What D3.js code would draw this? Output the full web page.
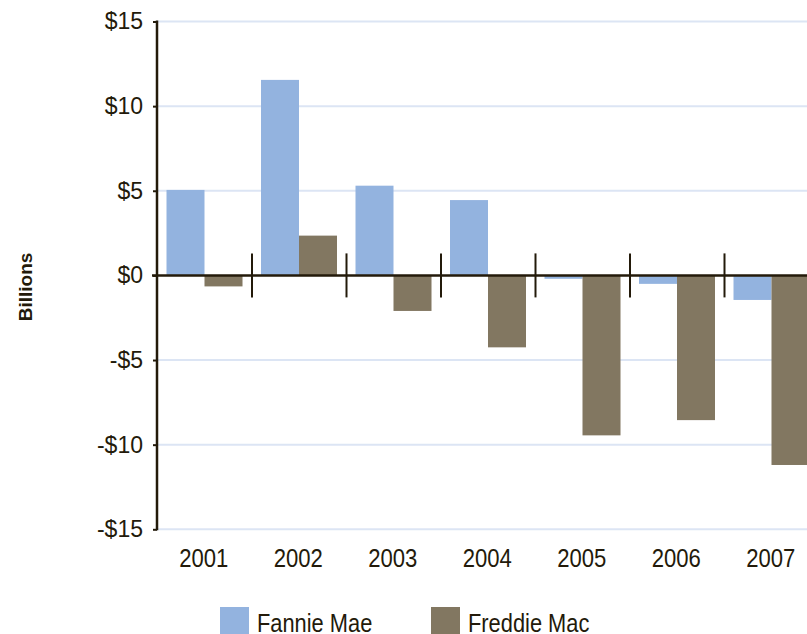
<!DOCTYPE html>
<html>
<head>
<meta charset="utf-8">
<script src="https://cdn.jsdelivr.net/npm/d3@7"></script>
<style>
  body { margin: 0; background: #fff; }
  svg { display: block; }
  text { fill: #231a0a; }
</style>
</head>
<body>
<svg></svg>
<script>
const years = ["2001", "2002", "2003", "2004", "2005", "2006", "2007"]
const fannie = [5.05, 11.55, 5.3, 4.45, -0.2, -0.5, -1.45]
const freddie = [-0.65, 2.35, -2.1, -4.25, -9.45, -8.55, -11.2]
const yTicks = [15, 10, 5, 0, -5, -10, -15]
const seriesNames = ["Fannie Mae", "Freddie Mac"]
const seriesColors = ["#93b3df", "#827761"]

const ink = "#231a0a"
const font = "'Liberation Sans', Arial, sans-serif"

const svg = d3.select("svg")
  .attr("width", 807)
  .attr("height", 634)

const y = d3.scaleLinear()
  .domain([-15, 15])
  .range([529.3, 21.5])

const x = d3.scaleBand()
  .domain(years)
  .range([157.5, 157.5 + 7 * 94.5])

const inner = d3.scaleBand()
  .domain([0, 1])
  .range([9, 94.5 - 9.5])

// gridlines
svg.append("g")
  .selectAll("line")
  .data(yTicks.filter(d => d !== 0))
  .join("line")
  .attr("x1", 157).attr("x2", 807)
  .attr("y1", d => y(d)).attr("y2", d => y(d))
  .attr("stroke", "#dce5f4")
  .attr("stroke-width", 2)

// bars
const rows = years.map((yr, i) => ({ yr, vals: [fannie[i], freddie[i]] }))

svg.append("g")
  .selectAll("g")
  .data(rows)
  .join("g")
  .attr("transform", d => `translate(${x(d.yr)},0)`)
  .selectAll("rect")
  .data(d => d.vals)
  .join("rect")
  .attr("x", (d, i) => inner(i))
  .attr("width", inner.bandwidth())
  .attr("y", d => y(Math.max(0, d)))
  .attr("height", d => Math.abs(y(d) - y(0)))
  .attr("fill", (d, i) => seriesColors[i])

// y axis
const yAxis = svg.append("g")
  .attr("transform", "translate(157,0)")
  .call(d3.axisLeft(y).tickValues(yTicks).tickSize(4).tickPadding(10)
    .tickFormat(d => (d < 0 ? "-$" : "$") + Math.abs(d)))

yAxis.select(".domain")
  .attr("stroke", ink)
  .attr("stroke-width", 2.5)
  .attr("d", `M0,${y(15) - 1}V${y(-15) + 1}`)
yAxis.selectAll(".tick line").attr("stroke", ink).attr("stroke-width", 2)
yAxis.selectAll(".tick text")
  .attr("fill", ink)
  .style("font-family", font)
  .style("font-size", "23px")

// zero line
svg.append("line")
  .attr("x1", 152).attr("x2", 807)
  .attr("y1", y(0)).attr("y2", y(0))
  .attr("stroke", ink)
  .attr("stroke-width", 2.5)

// category separators
svg.append("g")
  .selectAll("line")
  .data(years.slice(1))
  .join("line")
  .attr("x1", d => x(d)).attr("x2", d => x(d))
  .attr("y1", y(0) - 22).attr("y2", y(0) + 22)
  .attr("stroke", ink)
  .attr("stroke-width", 2)

// year labels (condensed look)
svg.append("g")
  .selectAll("text")
  .data(years)
  .join("text")
  .attr("transform", d => `translate(${x(d) + x.bandwidth() / 2 - 1},567) scale(0.85,1)`)
  .attr("text-anchor", "middle")
  .style("font-family", font)
  .style("font-size", "26px")
  .text(d => d)

// y title
svg.append("text")
  .attr("transform", "translate(32,287) rotate(-90)")
  .attr("text-anchor", "middle")
  .style("font-family", font)
  .style("font-weight", "bold")
  .style("font-size", "19px")
  .text("Billions")

// legend
const legendX = [220, 431]
const legend = svg.append("g")
  .selectAll("g")
  .data(seriesNames)
  .join("g")
  .attr("transform", (d, i) => `translate(${legendX[i]},607)`)

legend.append("rect")
  .attr("width", 29).attr("height", 29)
  .attr("fill", (d, i) => seriesColors[i])

legend.append("text")
  .attr("transform", "translate(37,25) scale(0.84,1)")
  .style("font-family", font)
  .style("font-size", "26px")
  .text(d => d)
</script>
</body>
</html>
